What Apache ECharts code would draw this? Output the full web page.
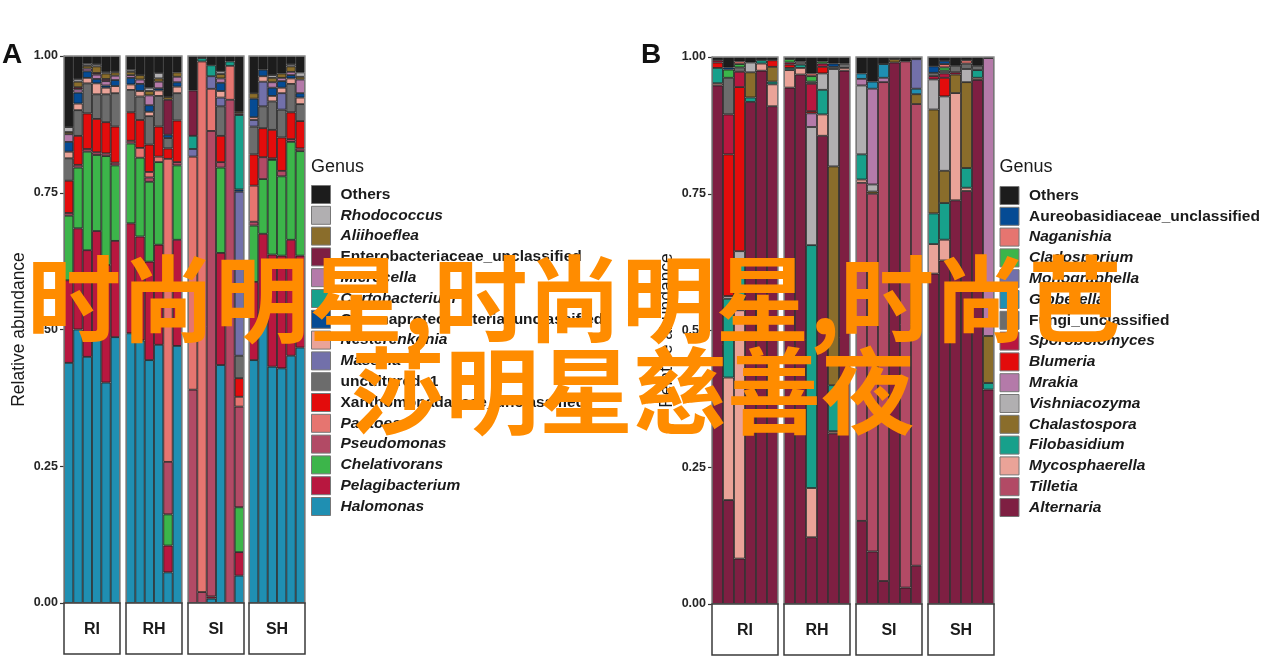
<!DOCTYPE html>
<html><head><meta charset="utf-8">
<script src="https://cdn.jsdelivr.net/npm/echarts@6/dist/echarts.min.js"></script>
<style>html,body{margin:0;padding:0;background:#fff}#c{width:1270px;height:663px}</style>
</head><body><div id="c"></div>
<script>
// ---------------- DATA ----------------
const facets = ['RI', 'RH', 'SI', 'SH'];
const samples = ['1', '2', '3', '4', '5', '6'];
const yTicks = [0, 0.25, 0.5, 0.75, 1];

// Panel A (bacteria) – legend order top -> bottom; each array: RI1-6, RH1-6, SI1-6, SH1-6
const genusA = ['Others', 'Rhodococcus', 'Aliihoeflea', 'Enterobacteriaceae_unclassified', 'Microcella',
  'Curtobacterium', 'Gammaproteobacteria_unclassified', 'Nesterenkonia', 'Massilia', 'uncultured\u22121',
  'Xanthomonadaceae_unclassified', 'Pantoea', 'Pseudomonas', 'Chelativorans', 'Pelagibacterium', 'Halomonas'];
const a_Others = [0.13,0.042,0.014,0.015,0.029,0.028, 0.025,0.035,0.058,0.031,0.075,0.03, 0.063,0.004,0.017,0.028,0.01,0.102, 0.068,0.025,0.035,0.032,0.015,0.03];
const a_Rhodococcus = [0.009,0.005,0.004,0.004,0.003,0.002, 0.004,0,0.006,0.01,0,0, 0,0,0,0.005,0,0, 0,0,0.005,0,0.004,0.008];
const a_Aliihoeflea = [0.004,0.01,0.005,0.012,0.01,0.006, 0.006,0.008,0.008,0.006,0.005,0.008, 0,0,0,0.008,0,0.003, 0.01,0,0.008,0.008,0.01,0.005];
const a_Enterobacteriaceae = [0,0.004,0,0.003,0.004,0, 0,0,0,0,0.064,0, 0.083,0,0,0,0,0.003, 0,0,0,0,0,0];
const a_Microcella = [0.014,0.006,0.005,0.008,0.008,0.008, 0.005,0.008,0.018,0.012,0,0.01, 0,0,0,0.008,0,0, 0,0,0.01,0.006,0.006,0.025];
const a_Curtobacterium = [0,0,0,0,0,0, 0,0,0,0,0,0, 0.024,0.006,0.02,0,0.008,0.136, 0,0,0,0,0,0];
const a_Gammaproteobacteria = [0.018,0.02,0.012,0.008,0.004,0.011, 0.012,0.013,0.012,0.004,0.006,0.008, 0,0,0,0.015,0,0.004, 0.034,0.012,0.015,0.012,0.006,0.008];
const a_Nesterenkonia = [0.012,0.012,0.01,0.02,0.012,0.013, 0.01,0.01,0.008,0.01,0,0.012, 0,0,0,0.012,0,0, 0.005,0.01,0.01,0.01,0.01,0.012];
const a_Massilia = [0,0,0,0,0,0, 0,0,0,0,0,0, 0.014,0,0.023,0.016,0,0.30, 0.012,0.045,0,0.03,0,0];
const a_uncultured1 = [0.041,0.047,0.055,0.045,0.051,0.061, 0.041,0.043,0.052,0.056,0.019,0.05, 0,0,0,0.054,0,0.041, 0.051,0.04,0.052,0.051,0.052,0.031];
const a_Xanthomonadaceae = [0.059,0.053,0.065,0.061,0.057,0.066, 0.052,0.051,0.05,0.055,0.019,0.076, 0,0,0,0.048,0,0.034, 0.057,0.053,0.052,0.061,0.049,0.05];
const a_Pantoea = [0,0,0,0,0,0, 0,0.018,0.01,0.01,0.554,0, 0.426,0.97,0.077,0,0.062,0.018, 0.066,0,0,0,0,0];
const a_Pseudomonas = [0.005,0.005,0.005,0.005,0.005,0.005, 0.005,0,0.008,0,0.096,0.006, 0.39,0.02,0.851,0.01,0.92,0.184, 0.007,0.04,0.003,0.01,0.005,0.005];
const a_Chelativorans = [0.118,0.111,0.18,0.139,0.199,0.138, 0.146,0.144,0.146,0.151,0.057,0.136, 0,0,0,0.156,0,0.082, 0.103,0.10,0.173,0.145,0.179,0.191];
const a_Pelagibacterium = [0.151,0.185,0.195,0.19,0.215,0.176, 0.201,0.19,0.18,0.183,0.049,0.194, 0,0,0.004,0.205,0,0.043, 0.143,0.155,0.205,0.206,0.212,0.168];
const a_Halomonas = [0.439,0.50,0.45,0.49,0.403,0.486, 0.493,0.48,0.444,0.472,0.056,0.47, 0,0,0.008,0.435,0,0.05, 0.444,0.52,0.432,0.429,0.452,0.467];

// Panel B (fungi)
const genusB = ['Others', 'Aureobasidiaceae_unclassified', 'Naganishia', 'Cladosporium', 'Monographella',
  'Gibberella', 'Fungi_unclassified', 'Sporobolomyces', 'Blumeria', 'Mrakia', 'Vishniacozyma',
  'Chalastospora', 'Filobasidium', 'Mycosphaerella', 'Tilletia', 'Alternaria'];
const b_Others = [0.006,0.019,0.008,0.01,0.006,0.006, 0.004,0.008,0.03,0.008,0.012,0.012, 0.03,0.045,0.013,0.004,0.008,0.004, 0.017,0.007,0.016,0.006,0.016,0.002];
const b_Aureobasidiaceae = [0,0.004,0,0,0,0, 0,0,0,0,0.006,0, 0,0,0,0,0,0, 0.012,0.006,0,0,0,0];
const b_Naganishia = [0,0,0.005,0,0,0, 0,0,0.005,0,0,0, 0,0,0,0,0,0, 0,0.006,0,0.006,0,0];
const b_Cladosporium = [0,0.015,0.006,0,0,0, 0.006,0,0.01,0.004,0,0, 0,0,0,0,0,0, 0,0.006,0,0,0,0];
const b_Monographella = [0,0,0,0,0,0, 0,0,0,0,0,0, 0,0,0,0,0,0.054, 0,0,0,0,0,0];
const b_Gibberella = [0,0,0,0,0,0, 0,0,0,0,0,0, 0.01,0.013,0.025,0,0,0.01, 0,0,0,0,0,0];
const b_Fungi = [0,0.067,0.008,0,0,0, 0,0.006,0.004,0,0.004,0.008, 0,0,0,0,0,0, 0.006,0.005,0.012,0.01,0.008,0];
const b_Sporobolomyces = [0.004,0.073,0.028,0,0,0, 0.004,0,0.05,0.006,0,0, 0,0,0,0,0,0, 0.006,0.008,0.004,0,0,0];
const b_Blumeria = [0.01,0.259,0.3,0,0,0.012, 0.006,0,0.004,0.012,0,0, 0,0,0,0,0,0, 0,0.034,0,0,0,0];
const b_Mrakia = [0,0,0,0,0,0, 0,0,0.025,0,0,0, 0.012,0.175,0.008,0,0,0, 0,0,0,0,0,0.508];
const b_Vishniacozyma = [0,0.005,0.022,0.018,0,0, 0,0,0.216,0.03,0.178,0, 0.126,0.013,0,0,0,0, 0.055,0.136,0,0.024,0,0];
const b_Chalastospora = [0,0,0,0.046,0,0.027, 0,0,0,0,0.40,0, 0,0.004,0,0.006,0,0.018, 0.19,0.059,0.034,0.157,0,0.086];
const b_Filobasidium = [0.028,0.144,0.086,0.008,0.006,0.005, 0.004,0.006,0.444,0.045,0.084,0, 0.046,0,0,0,0,0, 0.056,0.067,0,0.036,0.014,0.012];
const b_Mycosphaerella = [0.004,0.224,0.454,0,0.013,0.04, 0.032,0.012,0.09,0.039,0.004,0.005, 0.006,0,0,0,0,0, 0.054,0.038,0.196,0.006,0.004,0];
const b_Tilletia = [0,0,0,0,0,0, 0,0,0,0,0,0, 0.618,0.654,0.912,0,0.962,0.844, 0,0,0,0,0,0];
const b_Alternaria = [0.948,0.19,0.083,0.918,0.975,0.91, 0.944,0.968,0.122,0.856,0.312,0.975, 0.152,0.096,0.042,0.99,0.03,0.07, 0.604,0.628,0.738,0.755,0.958,0.392];

// ---------------- STYLE ----------------
const colorsA = ['#1c1c1c','#b1afb1','#8a6d2b','#7e1f42','#b47aa9','#17a08b','#054b94','#eaa398',
  '#7270aa','#6c6c6c','#e30c0c','#e67570','#b24a65','#3cb54a','#b8173f','#1f8fb2'];
const colorsB = ['#1c1c1c','#054b94','#e67570','#3cb54a','#7270aa','#1f8fb2','#6c6c6c','#b8173f',
  '#e30c0c','#b47aa9','#b1afb1','#8a6d2b','#17a08b','#eaa398','#b24a65','#7e1f42'];
const uprightA = ['Others','Enterobacteriaceae_unclassified','Gammaproteobacteria_unclassified','uncultured\u22121','Xanthomonadaceae_unclassified'];
const uprightB = ['Others','Aureobasidiaceae_unclassified','Fungi_unclassified'];

const dataA = [a_Others,a_Rhodococcus,a_Aliihoeflea,a_Enterobacteriaceae,a_Microcella,a_Curtobacterium,
  a_Gammaproteobacteria,a_Nesterenkonia,a_Massilia,a_uncultured1,a_Xanthomonadaceae,a_Pantoea,
  a_Pseudomonas,a_Chelativorans,a_Pelagibacterium,a_Halomonas];
const dataB = [b_Others,b_Aureobasidiaceae,b_Naganishia,b_Cladosporium,b_Monographella,b_Gibberella,
  b_Fungi,b_Sporobolomyces,b_Blumeria,b_Mrakia,b_Vishniacozyma,b_Chalastospora,b_Filobasidium,
  b_Mycosphaerella,b_Tilletia,b_Alternaria];

const FONT = '"Liberation Sans", Arial, Helvetica, sans-serif';
const panels = [
  {lefts:[64,126,188,249], width:56, top:56, height:547, genus:genusA, data:dataA, colors:colorsA, upright:uprightA,
   legendLeft:311, legendTop:185, letter:'A', letterX:2},
  {lefts:[712,784,856,928], width:66, top:57, height:547, genus:genusB, data:dataB, colors:colorsB, upright:uprightB,
   legendLeft:999.5, legendTop:186, letter:'B', letterX:641}
];

const grid = [], xAxis = [], yAxis = [], series = [], legend = [], graphic = [];
panels.forEach((p, pi) => {
  p.lefts.forEach((left, f) => {
    const gi = grid.length;
    grid.push({left: left, top: p.top, width: p.width, height: p.height, containLabel: false});
    xAxis.push({type:'category', gridIndex: gi, data: samples, show: false});
    const first = f === 0;
    yAxis.push({
      type:'value', gridIndex: gi, min: yTicks[0], max: yTicks[yTicks.length-1], interval: 0.25,
      show: first,
      name: first ? 'Relative abundance' : '', nameLocation:'middle', nameGap: 36,
      nameTextStyle:{fontFamily: FONT, fontSize: 17.5, color:'#1a1a1a'},
      axisLine:{show:true, lineStyle:{color:'#333', width:1.2}},
      axisTick:{show:true, length:4, lineStyle:{color:'#333', width:1.2}},
      axisLabel:{show:true, margin:6, fontFamily: FONT, fontSize:12.5, fontWeight:'bold', color:'#262626',
        formatter: v => v.toFixed(2)},
      splitLine:{show:false}
    });
    // stack bottom -> top = legend reversed
    for (let g = p.genus.length - 1; g >= 0; g--) {
      series.push({
        type:'bar', name: p.genus[g], xAxisIndex: gi, yAxisIndex: gi, stack: 'st' + gi,
        barCategoryGap: '0%', silent: true,
        data: p.data[g].slice(f*6, f*6+6).map(v => v === 0 ? '-' : v),
        itemStyle:{color: p.colors[g], borderColor:'#161616', borderWidth:0.8},
        emphasis:{disabled:true}
      });
    }
    // facet frame
    graphic.push({type:'rect', z: 50, silent: true,
      shape:{x: left, y: p.top, width: p.width, height: p.height},
      style:{fill:'none', stroke:'#8c8c8c', lineWidth:1.4}});
    // strip
    graphic.push({type:'rect', z: 50, silent: true,
      shape:{x: left, y: p.top + p.height, width: p.width, height: 51},
      style:{fill:'#fff', stroke:'#3a3a3a', lineWidth:1.5}});
    graphic.push({type:'text', z: 51, silent: true,
      style:{x: left + p.width/2, y: p.top + p.height + 26.5, text: facets[f], align:'center', verticalAlign:'middle',
        font: 'bold 16px ' + FONT, fill:'#1a1a1a'}});
  });
  const rich = {
    n:{fontFamily: FONT, fontSize: 15.5, fontWeight:'bold', color:'#1a1a1a', padding:[0,0,0,5]},
    i:{fontFamily: FONT, fontSize: 15.5, fontWeight:'bold', fontStyle:'italic', color:'#1a1a1a', padding:[0,0,0,5]}
  };
  legend.push({
    orient:'vertical', left: p.legendLeft, top: p.legendTop, padding: 0, itemGap: 1.8,
    itemWidth: 19, itemHeight: 18, icon:'rect', selectedMode: false,
    data: p.genus,
    itemStyle:{borderColor:'#777', borderWidth:1},
    textStyle:{fontFamily: FONT, fontSize: 15.5, lineHeight: 18, color:'#1a1a1a', rich: rich},
    formatter: name => (p.upright.indexOf(name) >= 0 ? '{n|' : '{i|') + name + '}'
  });
  graphic.push({type:'text', z: 51, silent: true,
    style:{x: p.legendLeft, y: 167, text:'Genus', verticalAlign:'middle', font:'18px ' + FONT, fill:'#1a1a1a'}});
  graphic.push({type:'text', z: 51, silent: true,
    style:{x: p.letterX, y: 55, text: p.letter, verticalAlign:'middle', font:'bold 28px ' + FONT, fill:'#111'}});
});

// overlay caption
graphic.push({type:'text', z: 100, silent: true,
  style:{x: 27, y: 299, text:'时尚明星,时尚明星,时尚芭', verticalAlign:'middle',
    font:'bold 94px "Noto Sans CJK SC", sans-serif', fill:'#ff8c00'}});
graphic.push({type:'text', z: 100, silent: true,
  style:{x: 351, y: 391, text:'莎明星慈善夜', verticalAlign:'middle',
    font:'bold 94px "Noto Sans CJK SC", sans-serif', fill:'#ff8c00'}});

const chart = echarts.init(document.getElementById('c'), null, {renderer:'canvas'});
chart.setOption({
  animation: false, backgroundColor:'#fff',
  grid, xAxis, yAxis, series, legend, graphic, tooltip:{show:false}
});
</script></body></html>
